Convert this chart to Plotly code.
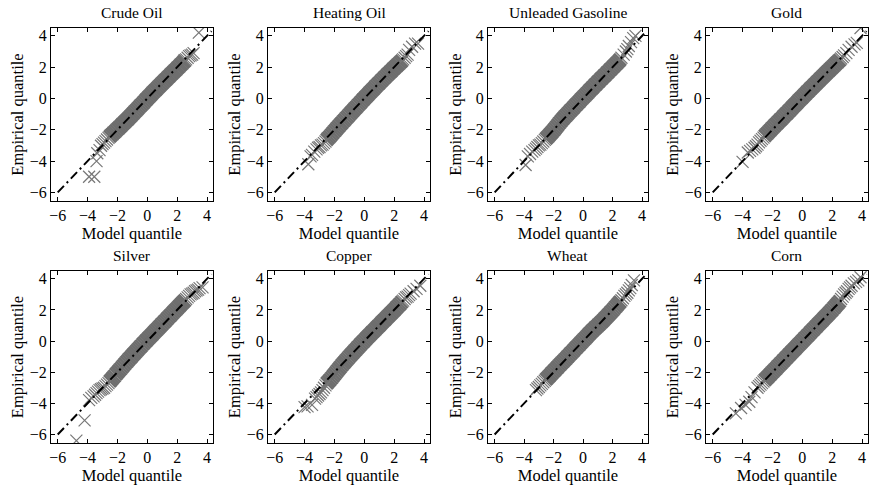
import plotly.graph_objects as go

titles = ["Crude Oil", "Heating Oil", "Unleaded Gasoline", "Gold",
          "Silver", "Copper", "Wheat", "Corn"]

tick_vals = [-6, -4, -2, 0, 2, 4]
tick_text = ["\u22126", "\u22124", "\u22122", "0", "2", "4"]

ref_line = [-6.0, 4.3]

# Model quantiles of the dense central band (shared grid)
band_x = [-2.5, -2.4, -2.3, -2.2, -2.1, -2.0, -1.9, -1.8, -1.7, -1.6, -1.5,
          -1.4, -1.3, -1.2, -1.1, -1.0, -0.9, -0.8, -0.7, -0.6, -0.5, -0.4,
          -0.3, -0.2, -0.1, 0.0, 0.1, 0.2, 0.3, 0.4, 0.5, 0.6, 0.7, 0.8, 0.9,
          1.0, 1.1, 1.2, 1.3, 1.4, 1.5, 1.6, 1.7, 1.8, 1.9, 2.0, 2.1, 2.2,
          2.3, 2.4, 2.5]

# Empirical quantiles of the band, per commodity
crude_y = [-2.42, -2.33, -2.24, -2.15, -2.05, -1.96, -1.87, -1.78, -1.68, -1.59,
           -1.5, -1.4, -1.31, -1.21, -1.11, -1.01, -0.91, -0.81, -0.71, -0.61,
           -0.51, -0.41, -0.31, -0.21, -0.1, 0.0, 0.1, 0.2, 0.3, 0.4, 0.5, 0.59,
           0.69, 0.79, 0.88, 0.98, 1.07, 1.17, 1.26, 1.36, 1.45, 1.55, 1.64,
           1.74, 1.83, 1.93, 2.02, 2.12, 2.21, 2.31, 2.4]
heating_y = [-2.62, -2.52, -2.42, -2.31, -2.2, -2.09, -1.98, -1.87, -1.77, -1.66,
             -1.56, -1.45, -1.35, -1.24, -1.14, -1.03, -0.93, -0.82, -0.72, -0.62,
             -0.52, -0.41, -0.31, -0.21, -0.1, 0.0, 0.1, 0.2, 0.3, 0.4, 0.5, 0.6,
             0.7, 0.8, 0.9, 0.99, 1.09, 1.19, 1.28, 1.38, 1.47, 1.57, 1.66, 1.75,
             1.85, 1.94, 2.03, 2.12, 2.21, 2.3, 2.39]
unleaded_y = [-2.55, -2.45, -2.35, -2.25, -2.14, -2.03, -1.92, -1.8, -1.68, -1.56,
              -1.45, -1.34, -1.23, -1.13, -1.03, -0.93, -0.83, -0.73, -0.63, -0.53,
              -0.43, -0.33, -0.23, -0.13, -0.03, 0.07, 0.16, 0.26, 0.36, 0.46, 0.56,
              0.65, 0.75, 0.85, 0.94, 1.04, 1.13, 1.23, 1.32, 1.42, 1.51, 1.61,
              1.7, 1.8, 1.89, 1.99, 2.08, 2.18, 2.27, 2.37, 2.47]
gold_y = [-2.38, -2.28, -2.18, -2.08, -1.98, -1.88, -1.78, -1.68, -1.59, -1.49,
          -1.39, -1.3, -1.2, -1.1, -1.0, -0.91, -0.81, -0.71, -0.61, -0.51,
          -0.41, -0.31, -0.21, -0.11, -0.01, 0.08, 0.18, 0.28, 0.38, 0.47, 0.57,
          0.67, 0.76, 0.86, 0.95, 1.05, 1.14, 1.24, 1.33, 1.43, 1.52, 1.62,
          1.71, 1.8, 1.9, 1.99, 2.08, 2.18, 2.27, 2.36, 2.45]
silver_y = [-2.58, -2.47, -2.36, -2.25, -2.13, -2.02, -1.91, -1.8, -1.69, -1.58,
            -1.47, -1.36, -1.25, -1.14, -1.04, -0.93, -0.83, -0.72, -0.62, -0.51,
            -0.41, -0.31, -0.2, -0.1, 0.0, 0.1, 0.2, 0.3, 0.4, 0.5, 0.6, 0.7, 0.8,
            0.9, 1.0, 1.1, 1.2, 1.3, 1.4, 1.5, 1.6, 1.7, 1.8, 1.9, 2.0, 2.1, 2.2,
            2.3, 2.4, 2.5, 2.6]
copper_y = [-2.7, -2.6, -2.5, -2.38, -2.26, -2.14, -2.02, -1.9, -1.78, -1.67,
            -1.55, -1.44, -1.33, -1.22, -1.11, -1.0, -0.9, -0.79, -0.69, -0.58,
            -0.48, -0.38, -0.27, -0.17, -0.07, 0.03, 0.13, 0.23, 0.33, 0.43, 0.53,
            0.62, 0.72, 0.82, 0.92, 1.01, 1.11, 1.21, 1.31, 1.4, 1.5, 1.6, 1.7,
            1.79, 1.89, 1.99, 2.09, 2.19, 2.29, 2.39, 2.5]
wheat_y = [-2.45, -2.35, -2.25, -2.15, -2.05, -1.95, -1.85, -1.75, -1.65, -1.55,
           -1.45, -1.35, -1.26, -1.16, -1.06, -0.96, -0.86, -0.76, -0.66, -0.56,
           -0.46, -0.36, -0.26, -0.16, -0.06, 0.04, 0.14, 0.24, 0.34, 0.44, 0.54,
           0.64, 0.73, 0.82, 0.91, 1.0, 1.09, 1.18, 1.27, 1.37, 1.47, 1.57, 1.67,
           1.77, 1.87, 1.97, 2.08, 2.19, 2.3, 2.41, 2.52]
corn_y = [-2.5, -2.4, -2.3, -2.2, -2.1, -2.0, -1.9, -1.8, -1.7, -1.6, -1.5, -1.4,
          -1.3, -1.2, -1.1, -1.0, -0.9, -0.8, -0.7, -0.6, -0.5, -0.4, -0.3, -0.2,
          -0.1, 0.0, 0.1, 0.2, 0.3, 0.4, 0.5, 0.6, 0.7, 0.8, 0.9, 1.0, 1.1, 1.2,
          1.3, 1.4, 1.5, 1.6, 1.7, 1.8, 1.9, 2.0, 2.11, 2.22, 2.33, 2.44, 2.55]

# Tail points (model quantile, empirical quantile)
crude_tail_x = [-2.6, -2.7, -2.8, -2.9, -3.0, -3.1, -3.2, -3.35, -3.4, -3.55, -3.9,
                2.5, 2.6, 2.7, 2.8, 2.9, 3.0, 3.1, 3.45]
crude_tail_y = [-2.52, -2.62, -2.72, -2.82, -2.92, -3.02, -3.3, -3.5, -4.0, -5.0, -5.0,
                2.45, 2.5, 2.6, 2.7, 2.75, 2.8, 2.9, 4.2]
heating_tail_x = [-2.6, -2.7, -2.8, -2.9, -3.0, -3.1, -3.2, -3.35, -3.5, -3.6, -3.75,
                  2.6, 2.7, 2.8, 2.9, 3.0, 3.2, 3.4, 3.6]
heating_tail_y = [-2.75, -2.85, -2.95, -3.0, -3.1, -3.15, -3.25, -3.4, -3.6, -3.7, -4.2,
                  2.5, 2.6, 2.7, 2.8, 3.1, 3.3, 3.5, 3.5]
unleaded_tail_x = [-2.6, -2.7, -2.8, -2.9, -3.0, -3.1, -3.2, -3.3, -3.45, -3.6, -3.75, -3.9,
                   2.6, 2.75, 2.9, 3.0, 3.1, 3.25, 3.4, 3.55]
unleaded_tail_y = [-2.65, -2.75, -2.85, -2.95, -3.0, -3.1, -3.2, -3.3, -3.4, -3.55, -3.7, -4.25,
                   2.6, 2.8, 3.0, 3.15, 3.35, 3.6, 3.85, 4.0]
gold_tail_x = [-2.6, -2.7, -2.8, -2.9, -3.0, -3.1, -3.2, -3.35, -3.5, -3.65, -4.0,
               2.6, 2.7, 2.8, 2.95, 3.1, 3.3, 3.5, 3.65, 3.9]
gold_tail_y = [-2.5, -2.6, -2.7, -2.8, -2.95, -3.05, -3.15, -3.25, -3.35, -3.45, -4.05,
               2.55, 2.65, 2.75, 2.9, 3.1, 3.3, 3.45, 3.55, 4.5]
silver_tail_x = [-2.6, -2.7, -2.8, -2.9, -3.0, -3.1, -3.2, -3.3, -3.4, -3.5, -3.6, -3.75,
                 -3.9, -4.2, -4.75, 2.6, 2.7, 2.8, 2.9, 3.0, 3.1, 3.2, 3.3, 3.4, 3.5, 3.7]
silver_tail_y = [-2.7, -2.8, -2.9, -3.0, -3.05, -3.1, -3.15, -3.25, -3.35, -3.45, -3.55, -3.65,
                 -3.8, -5.1, -6.4, 2.7, 2.8, 2.9, 3.0, 3.05, 3.1, 3.2, 3.25, 3.3, 3.4, 3.45]
copper_tail_x = [-2.6, -2.7, -2.8, -2.9, -3.0, -3.1, -3.2, -3.3, -3.5, -3.8, -4.0,
                 2.6, 2.7, 2.8, 2.9, 3.0, 3.1, 3.3, 3.5, 3.75]
copper_tail_y = [-2.85, -3.0, -3.15, -3.3, -3.4, -3.5, -3.6, -3.7, -4.1, -4.2, -4.25,
                 2.6, 2.7, 2.8, 2.85, 2.95, 3.05, 3.2, 3.35, 3.55]
wheat_tail_x = [-2.6, -2.7, -2.8, -2.9, -3.0, -3.1, -3.2,
                2.6, 2.7, 2.8, 2.9, 3.0, 3.1, 3.2, 3.3, 3.45]
wheat_tail_y = [-2.55, -2.65, -2.75, -2.85, -2.95, -3.05, -3.15,
                2.62, 2.75, 2.9, 3.0, 3.1, 3.25, 3.4, 3.6, 3.9]
corn_tail_x = [-2.6, -2.7, -2.8, -2.9, -3.0, -3.2, -3.4, -3.55, -3.8, -4.1, -4.45,
               2.6, 2.7, 2.8, 2.9, 3.0, 3.1, 3.2, 3.3, 3.45, 3.6, 3.75, 3.9]
corn_tail_y = [-2.6, -2.7, -2.8, -2.9, -3.0, -3.3, -3.6, -3.9, -4.1, -4.3, -4.65,
               2.7, 2.85, 3.0, 3.1, 3.2, 3.35, 3.45, 3.55, 3.7, 3.8, 3.9, 4.1]

band_y = [crude_y, heating_y, unleaded_y, gold_y, silver_y, copper_y, wheat_y, corn_y]
tails = [(crude_tail_x, crude_tail_y), (heating_tail_x, heating_tail_y),
         (unleaded_tail_x, unleaded_tail_y), (gold_tail_x, gold_tail_y),
         (silver_tail_x, silver_tail_y), (copper_tail_x, copper_tail_y),
         (wheat_tail_x, wheat_tail_y), (corn_tail_x, corn_tail_y)]

# layout geometry (paper fractions)
col_dom = [(0.0, 0.1983), (0.2656, 0.4639), (0.5349, 0.7307), (0.8017, 1.0)]
row_dom = [(0.5831, 1.0), (0.0, 0.4145)]

GRAY = "#777777"
BAND = "#6e6e6e"
FONT = "Liberation Serif, Times New Roman, serif"

fig = go.Figure()
layout = {}
annotations = []
for i in range(8):
    r, c = divmod(i, 4)
    ax = "" if i == 0 else str(i + 1)
    xref, yref = "x" + ax, "y" + ax
    tx, ty = tails[i]
    fig.add_trace(go.Scatter(
        x=band_x, y=band_y[i], mode="markers",
        marker=dict(symbol="x-thin", size=12, color=BAND,
                    line=dict(color=BAND, width=2.6)),
        xaxis=xref, yaxis=yref, showlegend=False, hoverinfo="skip"))
    fig.add_trace(go.Scatter(
        x=tx, y=ty, mode="markers",
        marker=dict(symbol="x-thin", size=12, color=GRAY,
                    line=dict(color=GRAY, width=1.2)),
        xaxis=xref, yaxis=yref, showlegend=False, hoverinfo="skip"))
    fig.add_trace(go.Scatter(
        x=ref_line, y=ref_line, mode="lines",
        line=dict(color="black", width=2, dash="9px,4px,2px,4px"),
        xaxis=xref, yaxis=yref, showlegend=False, hoverinfo="skip"))
    common = dict(showgrid=False, zeroline=False, showline=True, linecolor="black",
                  linewidth=1, mirror="allticks", ticks="inside", ticklen=4,
                  tickcolor="black", tickvals=tick_vals, ticktext=tick_text,
                  tickfont=dict(family=FONT, size=16, color="black"))
    layout["xaxis" + ax] = dict(
        domain=list(col_dom[c]), range=[-6.45, 4.4], anchor=yref,
        title=dict(text="Model quantile", font=dict(family=FONT, size=16.5, color="black"),
                   standoff=0),
        **common)
    layout["yaxis" + ax] = dict(
        domain=list(row_dom[r]), range=[-6.55, 4.5], anchor=xref,
        title=dict(text="Empirical quantile", font=dict(family=FONT, size=16.5, color="black"),
                   standoff=1),
        **common)
    annotations.append(dict(
        text=titles[i], x=sum(col_dom[c]) / 2, y=row_dom[r][1], xref="paper",
        yref="paper", xanchor="center", yanchor="bottom", yshift=5, showarrow=False,
        font=dict(family=FONT, size=15.5, color="black")))

fig.update_layout(**layout)
fig.update_layout(
    width=869, height=487, margin=dict(l=51, r=1, t=28, b=44),
    paper_bgcolor="white", plot_bgcolor="white", annotations=annotations,
    font=dict(family=FONT, size=16, color="black"))

fig.write_html("out.html")
